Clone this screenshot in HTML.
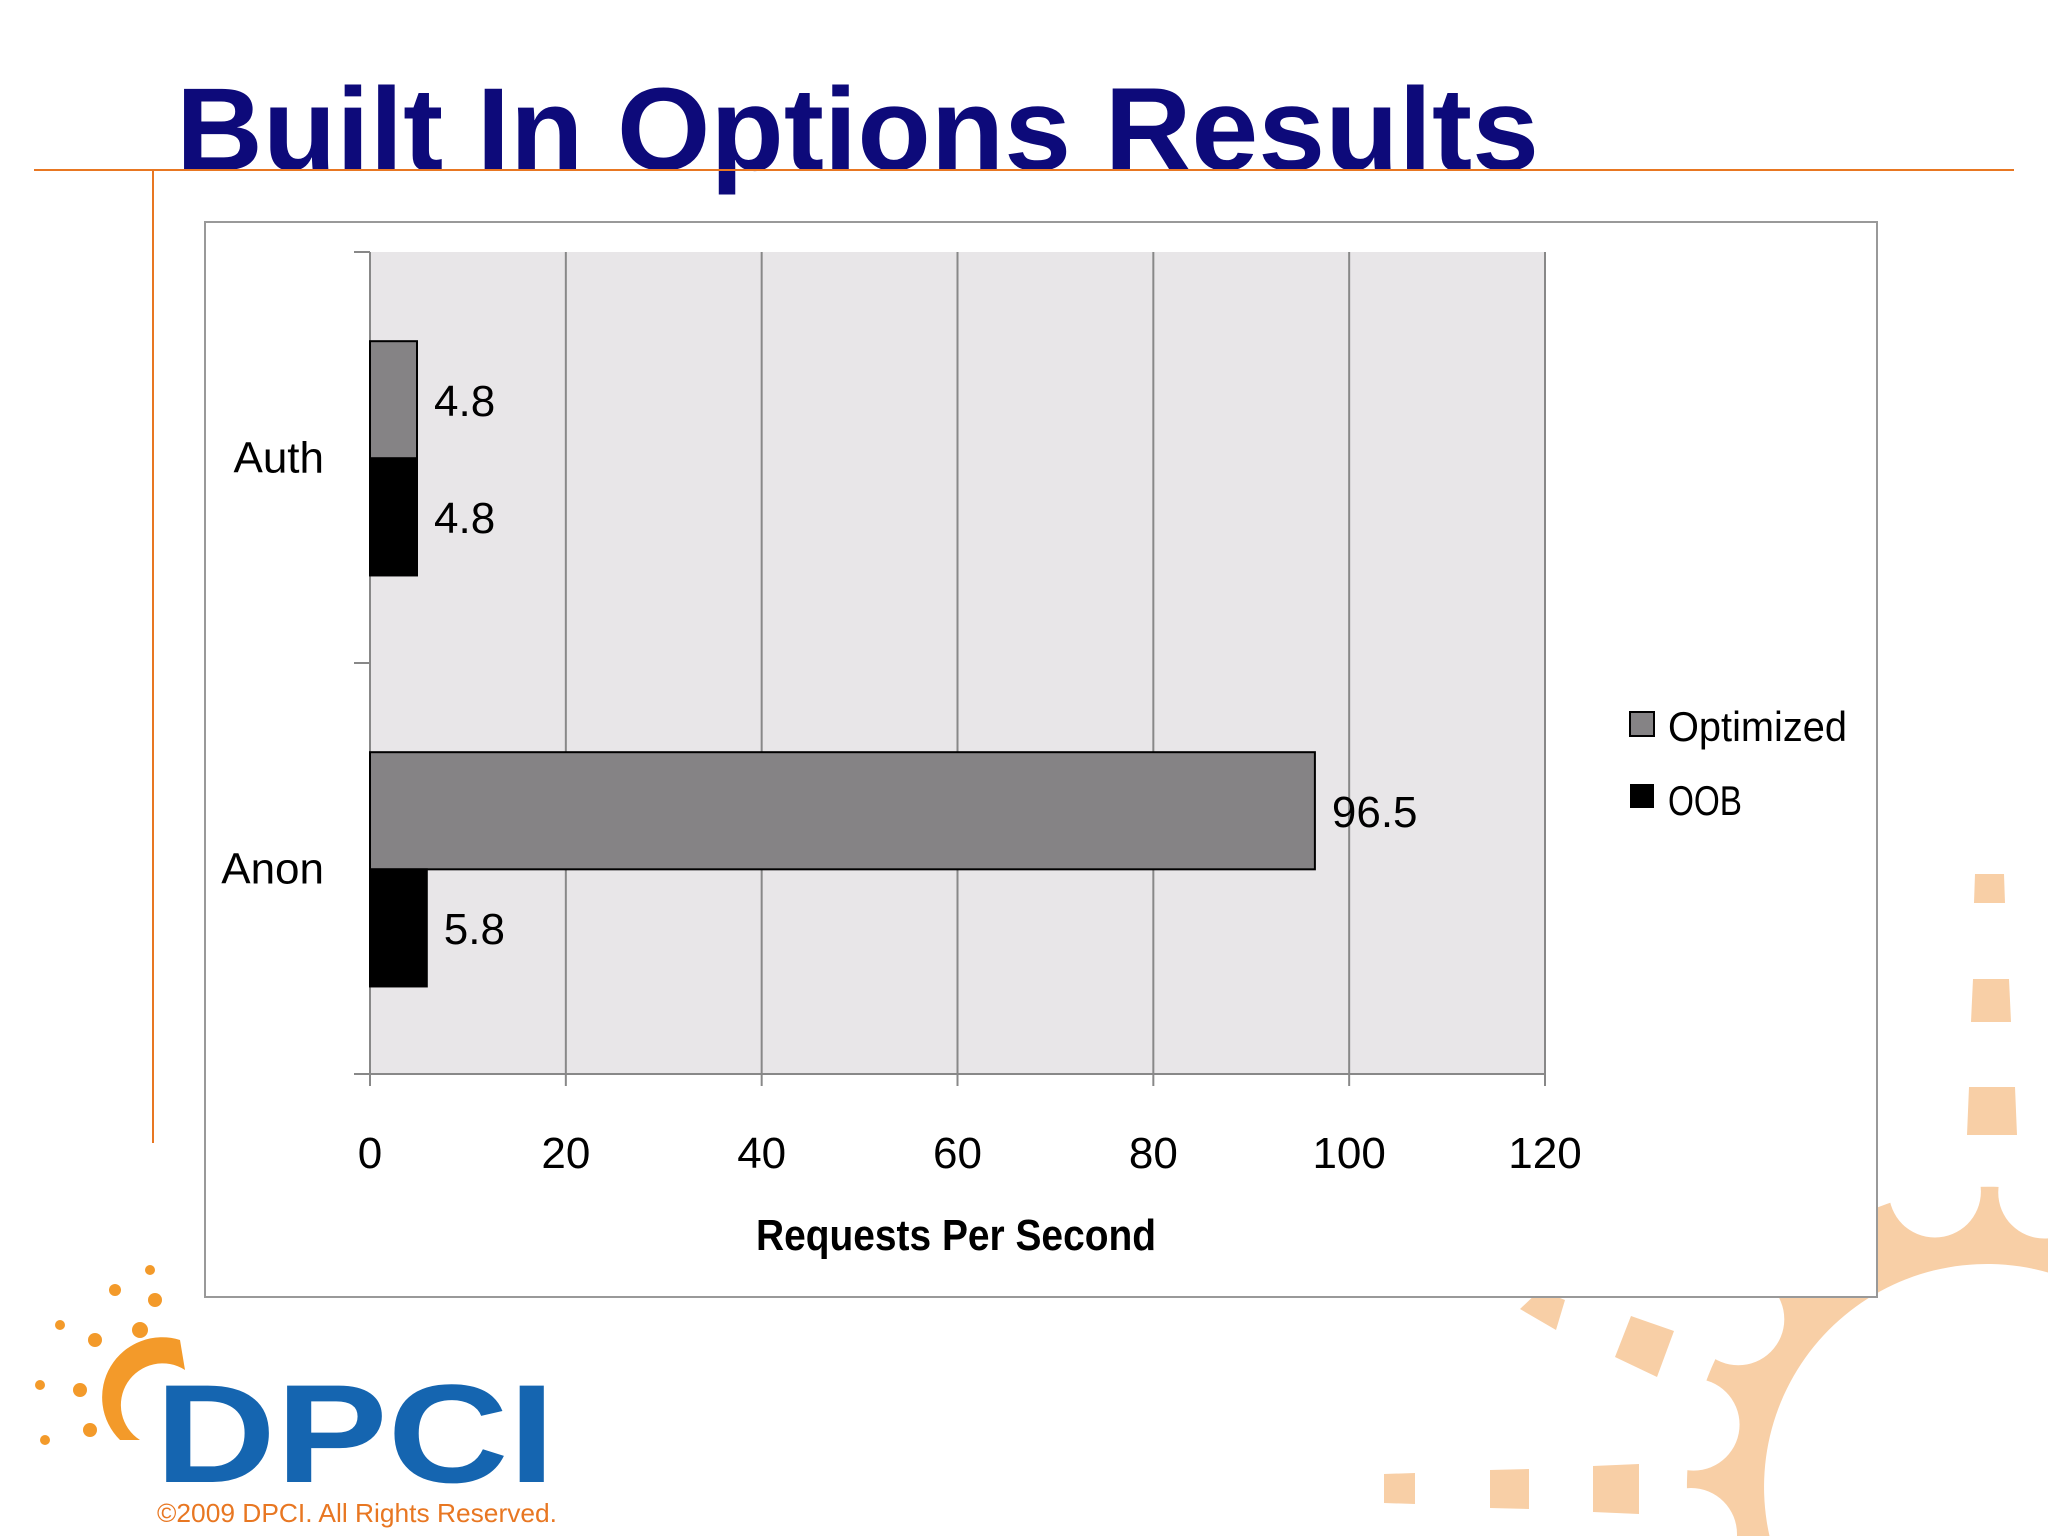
<!DOCTYPE html>
<html><head><meta charset="utf-8"><style>
html,body{margin:0;padding:0;width:2048px;height:1536px;background:#fff;overflow:hidden;font-family:"Liberation Sans","DejaVu Sans",sans-serif;}
svg{display:block;}
svg text{font-family:"Liberation Sans","DejaVu Sans",sans-serif;}
</style></head><body>
<svg id="s" width="2048" height="1536" viewBox="0 0 2048 1536" overflow="hidden" xmlns="http://www.w3.org/2000/svg">
<g fill="#f8cfa6">
<path d="M1691,1536 A300 300 0 0 1 2048,1193 L2048,1272.5 A223 223 0 0 0 1769.5,1536 Z"/>
<g fill="#fff" id="notches"><path d="M1645,1534 A46 46 0 0 1 1737,1534 L1737,1536 L1645,1536 Z"/></g>
<polygon points="1975,874 2004,874 2005,903 1974,903"/>
<polygon points="1973,979 2009,979 2011,1022 1971,1022"/>
<polygon points="1969,1087 2015,1087 2017,1135 1967,1135"/>
<polygon points="1384,1474 1415,1473 1415,1504 1384,1503"/>
<polygon points="1490,1470 1529,1469 1529,1509 1490,1508"/>
<polygon points="1593,1466 1639,1464 1639,1514 1593,1512"/>
<polygon points="1520,1309 1540,1290 1565,1300 1556,1330"/>
<polygon points="1631,1316 1674,1331 1657,1377 1615,1357"/>
</g>
<text x="176" y="170" font-size="118" font-weight="bold" fill="#0d0a7a" textLength="1363" lengthAdjust="spacingAndGlyphs">Built In Options Results</text>
<line x1="34" y1="170" x2="2014" y2="170" stroke="#e87722" stroke-width="2"/>
<line x1="153" y1="170" x2="153" y2="1143" stroke="#e87722" stroke-width="2"/>
<rect x="205" y="222" width="1672" height="1075" fill="#fff" stroke="#999" stroke-width="2"/>
<rect x="370" y="252" width="1175" height="822" fill="#e8e6e8"/>
<g id="grid"></g><g id="bars"></g>
<text x="756" y="1250" font-size="44" font-weight="bold" fill="#000" textLength="400" lengthAdjust="spacingAndGlyphs">Requests Per Second</text>
<g>
<rect x="1630" y="712" width="24" height="24" fill="#858385" stroke="#000" stroke-width="2"/>
<text x="1668" y="741" font-size="42" textLength="179" lengthAdjust="spacingAndGlyphs">Optimized</text>
<rect x="1630" y="784" width="24" height="24" fill="#000"/>
<text x="1668" y="815" font-size="42" textLength="74" lengthAdjust="spacingAndGlyphs">OOB</text>
</g>
<g>
<g fill="#f39a2a"><circle cx="150" cy="1270" r="5"/><circle cx="115" cy="1290" r="6"/><circle cx="155" cy="1300" r="7"/><circle cx="60" cy="1325" r="5"/><circle cx="95" cy="1340" r="7"/><circle cx="140" cy="1330" r="8"/><circle cx="40" cy="1385" r="5"/><circle cx="80" cy="1390" r="7"/><circle cx="45" cy="1440" r="5"/><circle cx="90" cy="1430" r="7"/><path d="M180 1340 A60 60 0 0 0 120 1440 L140 1440 A40 40 0 0 1 185 1370 Z"/></g>
<text x="155" y="1482" font-size="140" font-weight="bold" fill="#1565b0" textLength="400" lengthAdjust="spacingAndGlyphs">DPCI</text>
<text x="157" y="1522" font-size="26" fill="#e87722" textLength="400" lengthAdjust="spacingAndGlyphs">©2009 DPCI. All Rights Reserved.</text>
</g>
</svg>
<script>
const categories=["Auth","Anon"];
const seriesNames=["Optimized","OOB"];
const optimized=[4.8,96.5];
const oob=[4.8,5.8];
const xTicks=[0,20,40,60,80,100,120];
const X0=370,X1=1545,Y0=252,Y1=1074,XMAX=120;
const xs=v=>X0+v/XMAX*(X1-X0);
const band=(Y1-Y0)/categories.length;
const NS="http://www.w3.org/2000/svg";
function mk(t,a,p){const e=document.createElementNS(NS,t);for(const k in a)e.setAttribute(k,a[k]);p.appendChild(e);return e;}
const nt=document.getElementById('notches');
[192,214,237,260,281].forEach(a=>{const r=a*Math.PI/180;mk('circle',{cx:1987+300*Math.cos(r),cy:1487+300*Math.sin(r),r:46},nt);});
const g=document.getElementById('grid'),b=document.getElementById('bars');
xTicks.forEach(t=>{
 const x=xs(t);
 if(t>0){const l=mk('line',{x1:x,y1:Y0,x2:x,y2:Y1,stroke:'#888','stroke-width':2},g);
 
 }
 const tk=mk('line',{x1:x,y1:Y1,x2:x,y2:Y1+12,stroke:'#888','stroke-width':2},g);
 
 
 const tx=mk('text',{x:x,y:1168,'font-size':44,'text-anchor':'middle'},g);tx.textContent=t;
 
 
});
const ax=mk('line',{x1:X0,y1:Y0,x2:X0,y2:Y1,stroke:'#888','stroke-width':2},g);


const bx=mk('line',{x1:354,y1:Y1,x2:X1,y2:Y1,stroke:'#888','stroke-width':2},g);


for(let i=0;i<=categories.length;i++){const yt=mk('line',{x1:354,y1:Y0+i*band,x2:X0,y2:Y0+i*band,stroke:'#888','stroke-width':2},g);
 
 }
const bh=band*0.285,off=band*0.217;
categories.forEach((c,i)=>{
 const top=Y0+i*band+off;
 const cl=mk('text',{x:324,y:Y0+i*band+band/2+15,'font-size':44,'text-anchor':'end'},b);cl.textContent=c;
 
 
 [[optimized,'#858385'],[oob,'#000']].forEach(([arr,col],j)=>{
  const y=top+j*bh;
  const r=mk('rect',{x:X0,y:y,width:xs(arr[i])-X0,height:bh,fill:col,stroke:'#000','stroke-width':2},b);
  
  
  const v=mk('text',{x:xs(arr[i])+17,y:y+bh/2+16,'font-size':44},b);v.textContent=arr[i];
  
  
 });
});
</script>
</body></html>
